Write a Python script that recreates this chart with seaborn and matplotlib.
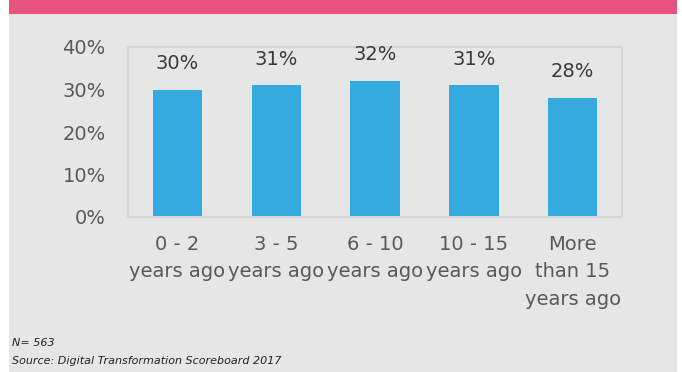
import matplotlib
matplotlib.use("Agg")
import matplotlib.pyplot as plt
import seaborn as sns
from matplotlib.patches import Rectangle

# data
categories = ["0 - 2\nyears ago", "3 - 5\nyears ago", "6 - 10\nyears ago",
              "10 - 15\nyears ago", "More\nthan 15\nyears ago"]
shares = [30, 31, 32, 31, 28]
y_ticks = [0, 10, 20, 30, 40]
notes = ["N= 563", "Source: Digital Transformation Scoreboard 2017"]

sns.set_style("white")
plt.rcParams["font.family"] = ["DejaVu Sans"]

bg = "#e6e6e6"
fig = plt.figure(figsize=(6.82, 3.72), dpi=100, facecolor="white")

# grey panel + pink header band
fig.patches.append(Rectangle((9 / 682, 0), 668 / 682, 1, transform=fig.transFigure,
                             facecolor=bg, edgecolor="none", zorder=-2))
fig.patches.append(Rectangle((9 / 682, 1 - 14 / 372), 668 / 682, 14 / 372,
                             transform=fig.transFigure, facecolor="#e8527f",
                             edgecolor="none", zorder=-1))

ax = fig.add_axes([128 / 682, 155 / 372, 494 / 682, 170 / 372])
ax.set_facecolor(bg)

sns.barplot(x=categories, y=shares, color="#35aadf", saturation=1, width=0.5,
            linewidth=0, ax=ax)

ax.set_ylim(0, 40)
ax.set_xlim(-0.5, 4.5)
ax.set_yticks(y_ticks)
ax.set_yticklabels([f"{t}%" for t in y_ticks])
ax.tick_params(axis="y", length=0, pad=16, labelsize=14, labelcolor="#595959")
ax.tick_params(axis="x", length=0, pad=13, labelsize=14, labelcolor="#595959")
for lbl in ax.get_xticklabels():
    lbl.set_linespacing(1.55)
for s in ax.spines.values():
    s.set_color("#d5d5d5")
    s.set_linewidth(1.5)

ax.bar_label(ax.containers[0], labels=[f"{v}%" for v in shares], padding=12,
             fontsize=14, color="#3a3a3a")

fig.text(12 / 682, 1 - 343 / 372, notes[0], fontsize=8, style="italic",
         color="#222222", va="center")
fig.text(12 / 682, 1 - 361 / 372, notes[1], fontsize=8, style="italic",
         color="#222222", va="center")

fig.savefig("out.png", dpi=100, facecolor="white")
